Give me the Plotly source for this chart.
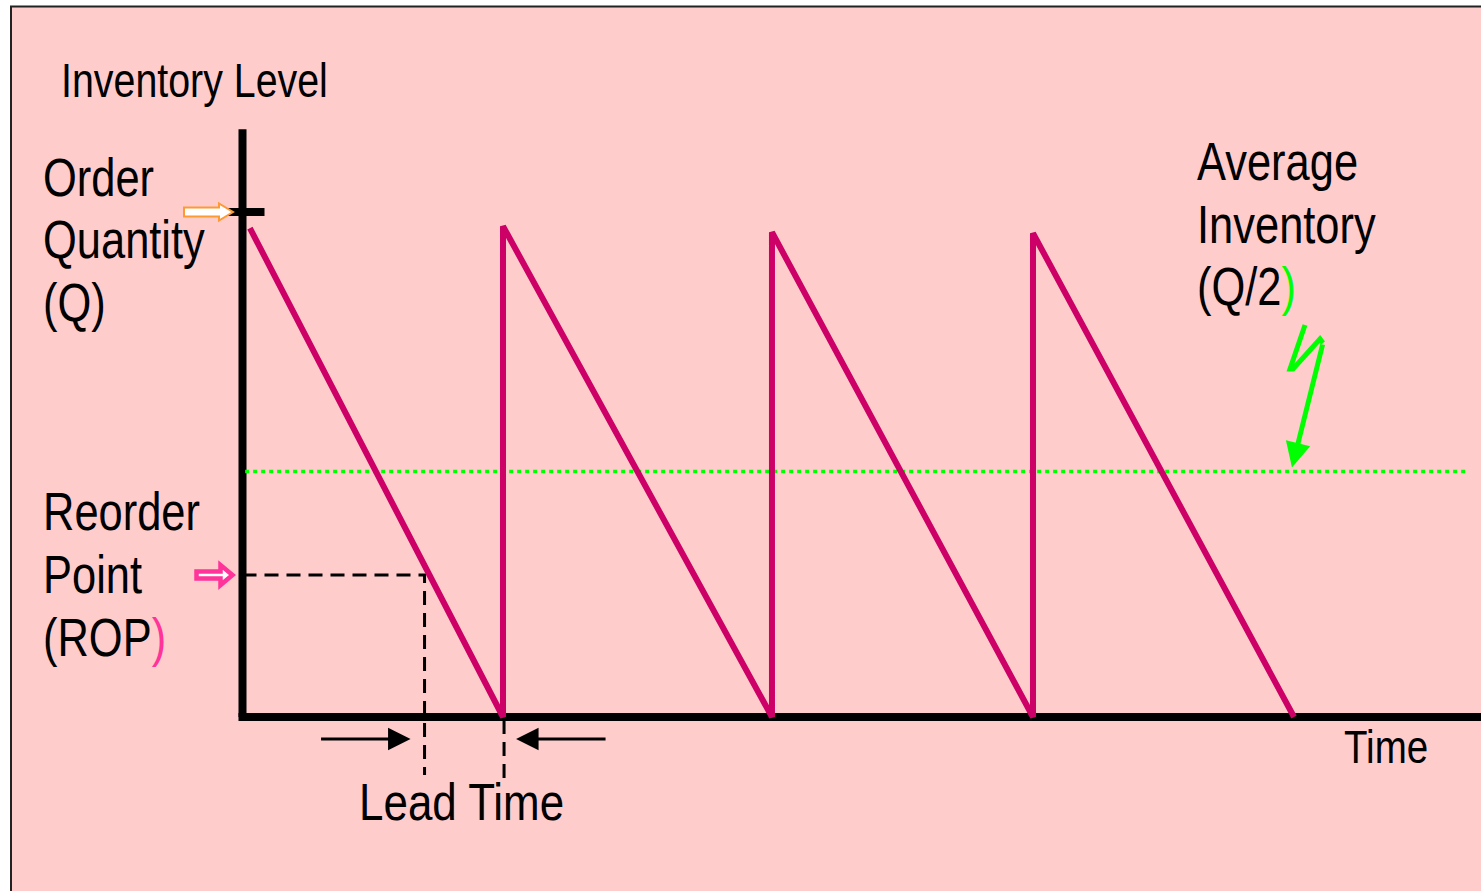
import plotly.graph_objects as go

W, H = 1481, 891

# ---------------- data ----------------
cycle_times = [0.28, 9.83, 9.83, 19.98, 19.98, 29.83, 29.83, 39.68]
inventory_levels = [96.8, 0, 97.2, 0, 96.0, 0, 95.8, 0]
order_quantity = 100.0
reorder_point = 28.1
average_inventory = 48.6
lead_time_start = 6.87
lead_time_end = 9.87
time_axis_end = 47.0
inventory_axis_top = 116.4
average_line_span = [0.1, 46.2]

# ---------------- scale (pixel <-> data) ----------------
X0_PX, Y0_PX = 242.5, 717.0
PX_PER_T, PX_PER_Q = 26.5, 5.05


def tx(px):
    return (px - X0_PX) / PX_PER_T


def qy(py):
    return (Y0_PX - py) / PX_PER_Q


def dt(px):
    return px / PX_PER_T


def dq(px):
    return px / PX_PER_Q


MAGENTA = "#CC0066"
GREEN = "#00FF00"
PINK_BG = "#FFCCCC"
FONT = "Liberation Sans Narrow, Arial Narrow, Liberation Sans, Arial, sans-serif"

fig = go.Figure()

# axes drawn as thick lines
fig.add_trace(go.Scatter(x=[0, 0], y=[0, inventory_axis_top], mode="lines",
                         line=dict(color="black", width=8), hoverinfo="skip"))
fig.add_trace(go.Scatter(x=[dt(-4), time_axis_end], y=[0, 0], mode="lines",
                         line=dict(color="black", width=8), hoverinfo="skip"))
# Q tick
fig.add_trace(go.Scatter(x=[dt(-31), dt(22)], y=[order_quantity, order_quantity], mode="lines",
                         line=dict(color="black", width=8), hoverinfo="skip"))

# average inventory dotted line
fig.add_trace(go.Scatter(x=average_line_span, y=[average_inventory, average_inventory], mode="lines",
                         line=dict(color=GREEN, width=3.5, dash="4px,4px"), hoverinfo="skip"))

# reorder point dashed lines
fig.add_trace(go.Scatter(x=[0, lead_time_start, lead_time_start],
                         y=[reorder_point, reorder_point, reorder_point - dq(200)],
                         mode="lines", line=dict(color="black", width=3, dash="14px,8px"),
                         hoverinfo="skip"))
fig.add_trace(go.Scatter(x=[lead_time_end, lead_time_end],
                         y=[reorder_point - dq(13), -dq(63)],
                         mode="lines", line=dict(color="black", width=3, dash="14px,8px"),
                         hoverinfo="skip"))

# sawtooth inventory
fig.add_trace(go.Scatter(x=cycle_times, y=inventory_levels, mode="lines",
                         line=dict(color=MAGENTA, width=6), hoverinfo="skip"))

# green zigzag pointer
zig_x = [tx(1305), tx(1293), tx(1290), tx(1293), tx(1320), tx(1323)]
zig_y = [qy(325), qy(360), qy(369), qy(369), qy(339), qy(343)]
fig.add_trace(go.Scatter(x=zig_x, y=zig_y, mode="lines",
                         line=dict(color=GREEN, width=5), hoverinfo="skip"))

annotations = []
# green arrow final segment
annotations.append(dict(x=tx(1292), y=average_inventory + dq(4), ax=tx(1323), ay=qy(343),
                        xref="x", yref="y", axref="x", ayref="y", text="", showarrow=True,
                        arrowhead=2, arrowsize=1.0, arrowwidth=5, arrowcolor=GREEN))
# lead time arrows
arrow_q = -dq(22)
annotations.append(dict(x=lead_time_start - dt(14), y=arrow_q, ax=lead_time_start - dt(105), ay=arrow_q,
                        xref="x", yref="y", axref="x", ayref="y", text="", showarrow=True,
                        arrowhead=2, arrowsize=1.5, arrowwidth=3, arrowcolor="black"))
annotations.append(dict(x=lead_time_end + dt(12), y=arrow_q, ax=lead_time_end + dt(103), ay=arrow_q,
                        xref="x", yref="y", axref="x", ayref="y", text="", showarrow=True,
                        arrowhead=2, arrowsize=1.5, arrowwidth=3, arrowcolor="black"))


def label(text, left_px, baseline_px, size, squeeze=0.82):
    cy = baseline_px - 0.35 * size
    annotations.append(dict(text=text, x=left_px / W, y=1 - cy / H, xref="paper", yref="paper",
                            xanchor="left", yanchor="middle", showarrow=False, name=f"sq{squeeze}",
                            font=dict(family=FONT, size=size, color="black")))


label("Inventory Level", 59, 97, 48)
label("Order", 41, 196, 53)
label("Quantity", 41, 258, 53)
label("(Q)", 41, 321, 53)
label("Reorder", 41, 530, 53)
label("Point", 41, 593, 53)
label("(ROP<span style='color:#FF3399'>)</span>", 41, 656, 53)
label("Average", 1195, 180, 53)
label("Inventory", 1195, 243, 53)
label("(Q/2<span style='color:#00FF00'>)</span>", 1195, 305, 53)
label("Lead Time", 357, 820, 52)
label("Time", 1342, 763, 47)


def block_arrow(tip_t, q, length_px, shaft_half_px, head_half_px, head_len_px):
    tail = tip_t - dt(length_px)
    neck = tip_t - dt(head_len_px)
    pts = [(tail, q + dq(shaft_half_px)), (neck, q + dq(shaft_half_px)), (neck, q + dq(head_half_px)),
           (tip_t, q), (neck, q - dq(head_half_px)), (neck, q - dq(shaft_half_px)),
           (tail, q - dq(shaft_half_px))]
    return "M " + " L ".join(f"{a:.4f},{b:.4f}" for a, b in pts) + " Z"


shapes = [
    dict(type="rect", xref="paper", yref="paper", x0=11 / W, x1=1.02, y0=-0.02, y1=1 - 6.5 / H,
         fillcolor=PINK_BG, line=dict(color="#222222", width=2), layer="below"),
    dict(type="path", xref="x", yref="y", path=block_arrow(-dt(9.5), order_quantity, 49, 4.5, 8.5, 14),
         fillcolor="white", line=dict(color="#FF9933", width=2), layer="above"),
    dict(type="path", xref="x", yref="y", path=block_arrow(-dt(10), reorder_point, 36, 3.5, 10, 12),
         fillcolor="white", line=dict(color="#FF3399", width=4.5), layer="above"),
]

fig.update_layout(
    width=W, height=H, margin=dict(l=0, r=0, t=0, b=0),
    paper_bgcolor="white", plot_bgcolor="rgba(0,0,0,0)",
    showlegend=False,
    xaxis=dict(range=[tx(0), tx(W)], visible=False, fixedrange=True),
    yaxis=dict(range=[qy(H), qy(0)], visible=False, fixedrange=True),
    shapes=shapes, annotations=annotations,
)

# Narrow (condensed) look of the labels: squeeze the text horizontally around its left edge
post_js = """
(function(){
  var gd = document.getElementById('{plot_id}');
  var texts = gd.querySelectorAll('text.annotation-text');
  texts.forEach(function(t){
    var s = (t.textContent || '').trim();
    if(!s) return;
    var k = (s === 'Lead Time') ? 0.845 : 0.82;
    var b = t.getBBox();
    var prev = t.getAttribute('transform') || '';
    t.setAttribute('transform', prev + ' translate(' + b.x + ',0) scale(' + k + ',1) translate(' + (-b.x) + ',0)');
  });
})();
"""

fig.write_html("out.html", post_script=post_js)
